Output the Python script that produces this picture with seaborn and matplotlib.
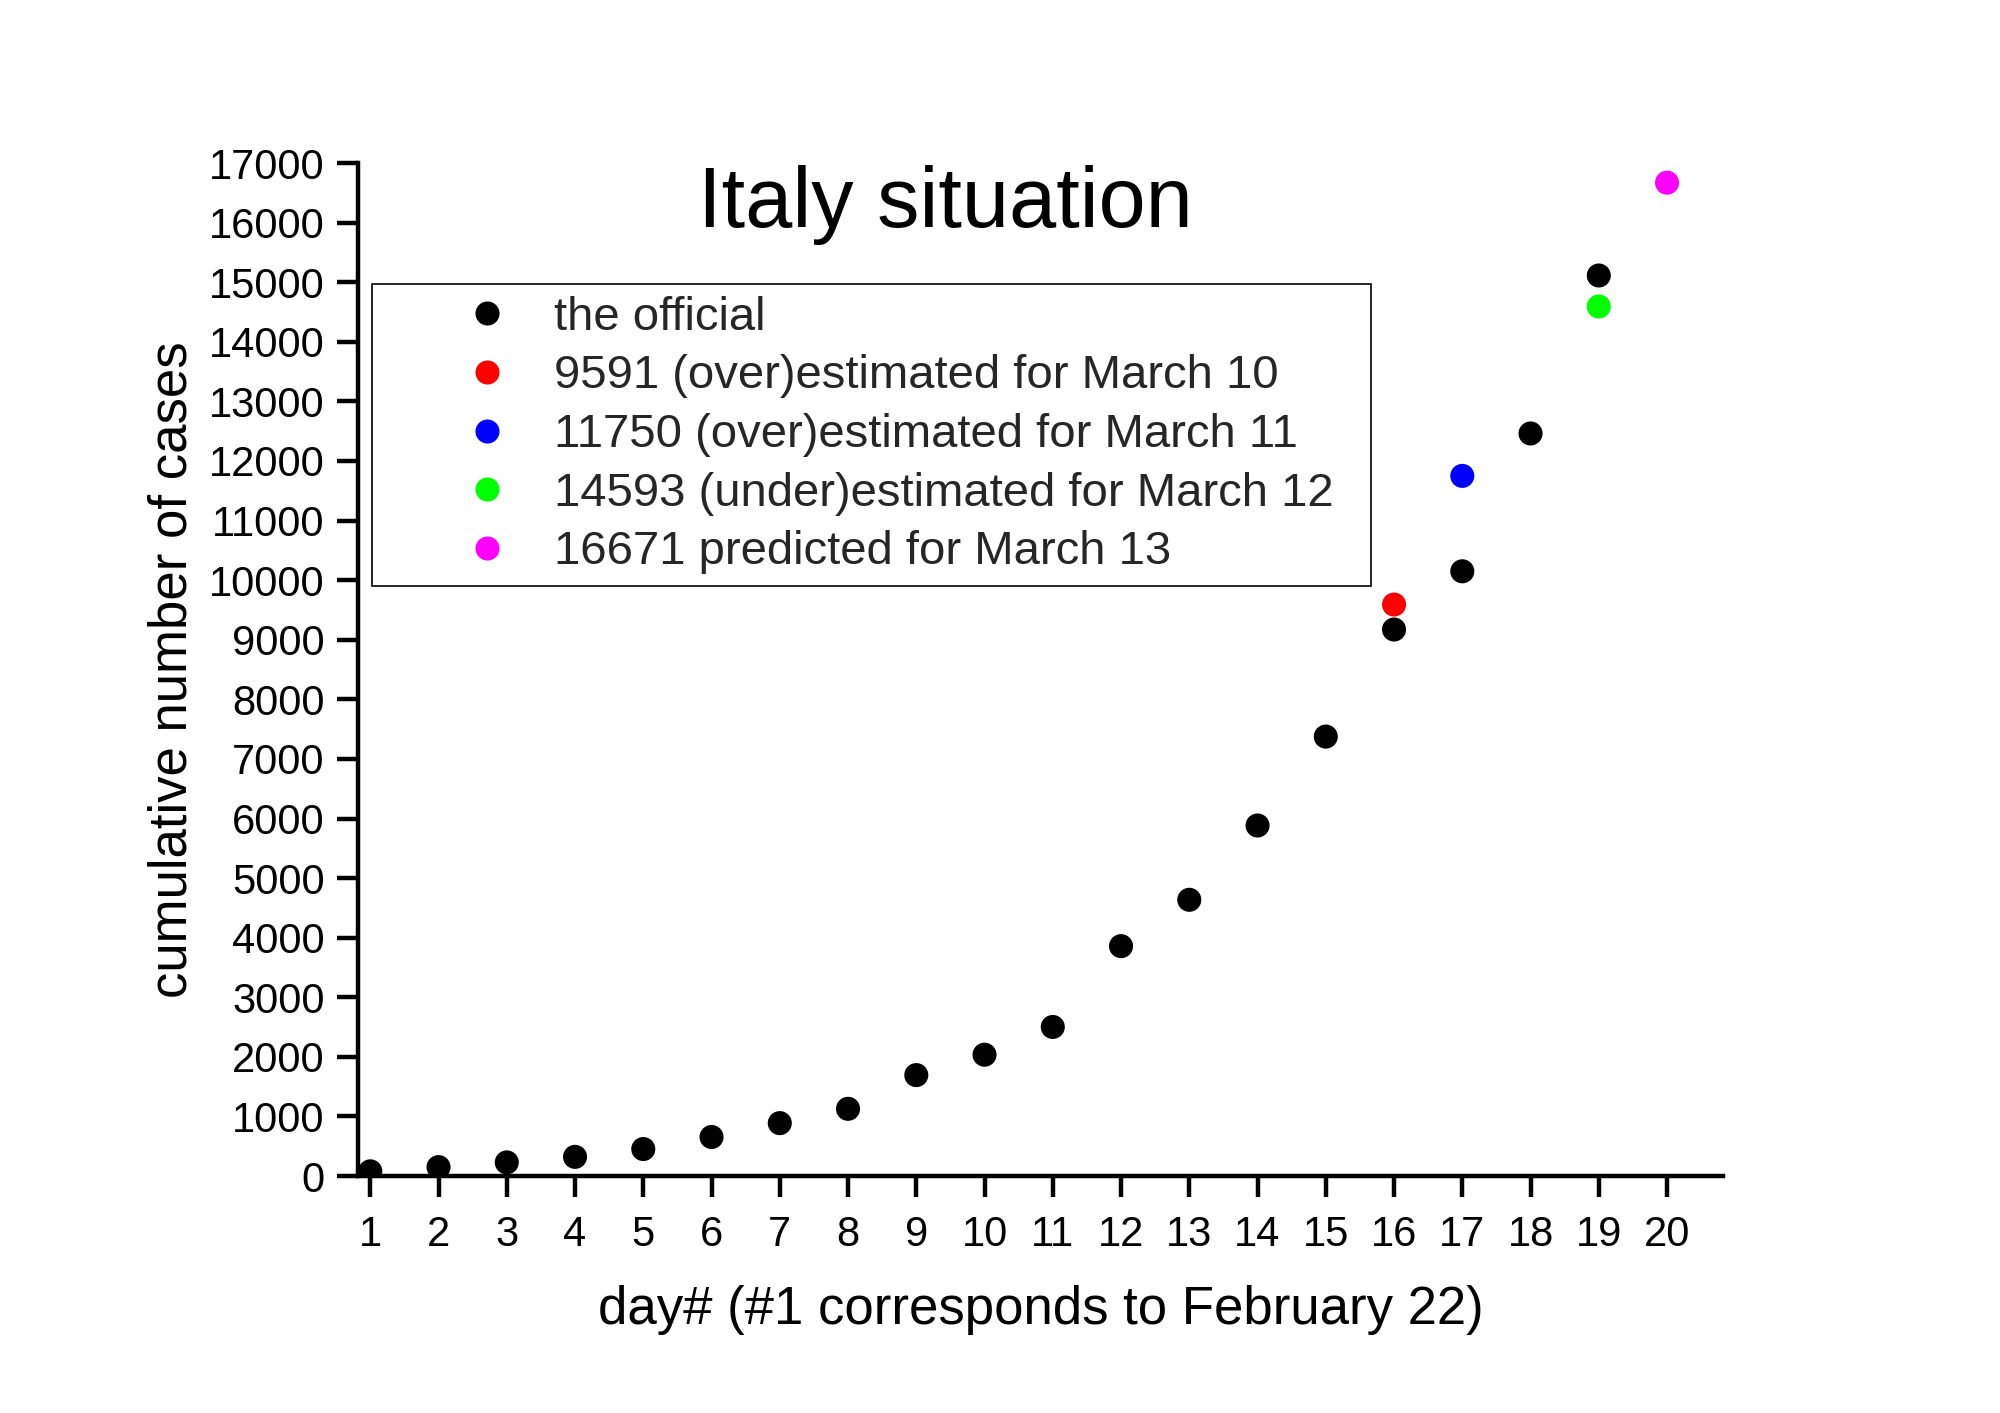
import matplotlib
matplotlib.use("Agg")
import matplotlib.pyplot as plt
import seaborn as sns
import pandas as pd

# ---- data ----
official_days = list(range(1, 20))
official_cases = [79, 150, 229, 322, 453, 655, 888, 1128, 1694, 2036, 2502,
                  3858, 4636, 5883, 7375, 9172, 10149, 12462, 15113]

est_days = [16, 17, 19, 20]
est_cases = [9591, 11750, 14593, 16671]
est_labels = ["9591 (over)estimated for March 10",
              "11750 (over)estimated for March 11",
              "14593 (under)estimated for March 12",
              "16671 predicted for March 13"]
official_label = "the official"

colors = {official_label: "#000000",
          est_labels[0]: "#FF0000",
          est_labels[1]: "#0000FF",
          est_labels[2]: "#00FF00",
          est_labels[3]: "#FF00FF"}

title = "Italy situation"
xlabel = "day# (#1 corresponds to February 22)"
ylabel = "cumulative number of cases"
yticks = list(range(0, 17001, 1000))
xticks = list(range(1, 21))

df = pd.DataFrame({
    "day": official_days + est_days,
    "cases": official_cases + est_cases,
    "series": [official_label] * len(official_days) + est_labels,
})

sns.set_theme(style="ticks")
plt.rcParams["font.family"] = ["Liberation Sans", "DejaVu Sans"]

fig = plt.figure(figsize=(10, 7.065), dpi=200)
ax = fig.add_axes([0.179, 0.1677, 0.6825, 0.7169])

sns.scatterplot(data=df, x="day", y="cases", hue="series",
                hue_order=[official_label] + est_labels, palette=colors,
                s=75, linewidth=0, ax=ax, zorder=3)

ax.set_xlim(0.82, 20.82)
ax.set_ylim(0, 17000)
ax.set_xticks(xticks)
ax.set_yticks(yticks)
ax.set_xticklabels([str(v) for v in xticks])
ax.set_yticklabels([str(v) for v in yticks])

for s in ["top", "right"]:
    ax.spines[s].set_visible(False)
for s in ["left", "bottom"]:
    ax.spines[s].set_linewidth(1.6)
    ax.spines[s].set_color("black")
    ax.spines[s].set_capstyle("projecting")

ax.tick_params(axis="both", direction="out", length=7.5, width=1.6,
               color="black", labelsize=15, labelcolor="black")
ax.tick_params(axis="y", pad=4.5)
ax.tick_params(axis="x", pad=6.5)

ax.set_xlabel(xlabel, fontsize=19, labelpad=11, color="black")
ax.set_ylabel(ylabel, fontsize=19, labelpad=4, color="black")

ax.text(0.43, 0.937, title, transform=ax.transAxes, ha="center",
        va="baseline", fontsize=30.5, color="black")

leg = ax.legend(loc="upper left", bbox_to_anchor=(0.0103, 0.5, 0.732, 0.3806),
                mode="expand", borderaxespad=0, fontsize=17, frameon=True,
                fancybox=False, shadow=False, borderpad=0.25,
                handlelength=4.38, handletextpad=-0.77, labelspacing=0.31,
                markerscale=1.0, title=None)
leg.get_frame().set_edgecolor("black")
leg.get_frame().set_linewidth(0.6)
leg.get_frame().set_facecolor("white")
leg.get_frame().set_alpha(1)

fig.savefig("out.png", dpi=200, facecolor="white")
